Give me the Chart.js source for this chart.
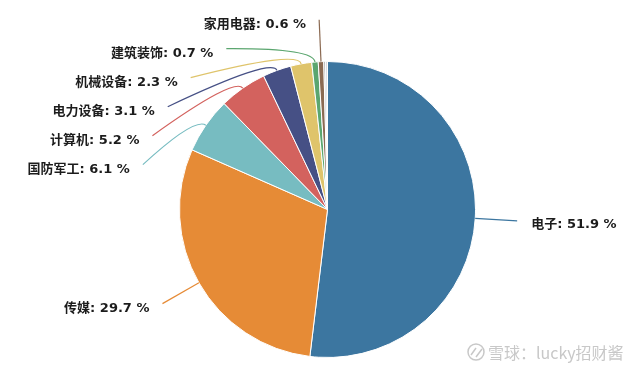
<!DOCTYPE html>
<html>
<head>
<meta charset="utf-8">
<title>行业占比</title>
<style>
  html, body { margin: 0; padding: 0; background: #fff; }
  #wrap { width: 640px; height: 371px; }
</style>
</head>
<body>
<div id="wrap"><canvas id="pie" width="640" height="371"></canvas></div>
<script src="https://cdn.jsdelivr.net/npm/chart.js"></script>
<script>
// 行业及占比 (%)
const categories = ['电子', '传媒', '国防军工', '计算机', '电力设备', '机械设备', '建筑装饰', '家用电器', '其他1', '其他2'];
const shares = [51.9, 29.7, 6.1, 5.2, 3.1, 2.3, 0.7, 0.6, 0.2, 0.2];
const colors = ['#3c76a0', '#e68b36', '#77bcc1', '#d3625e', '#465085', '#dfc46b', '#5ba66f', '#8b6a52', '#a3a3a3', '#d2d4dc'];
const labelled = [true, true, true, true, true, true, true, true, false, false];

const FONT = 'bold 13px "DejaVu Sans", "Noto Sans CJK SC", sans-serif';

// 引导线 + 标签
const leaderLabels = {
    id: 'leaderLabels',
    afterDatasetsDraw(chart) {
        const ctx = chart.ctx;
        const arcs = chart.getDatasetMeta(0).data;
        const cx = arcs[0].x, cy = arcs[0].y, r = arcs[0].outerRadius;
        const R2 = r + 42;
        const gap = 29;

        let items = [];
        arcs.forEach((a, i) => {
            if (!labelled[i]) return;
            const mid = (a.startAngle + a.endAngle) / 2;
            items.push({ i, mid, y: cy + Math.sin(mid) * R2, left: Math.cos(mid) < 0 });
        });

        // 标签从上往下避让
        [items.filter(d => d.left), items.filter(d => !d.left)].forEach(side => {
            side.sort((a, b) => a.y - b.y);
            for (let k = 1; k < side.length; k++) {
                if (side[k].y - side[k - 1].y < gap) side[k].y = side[k - 1].y + gap;
            }
        });

        ctx.save();
        ctx.font = FONT;
        ctx.textBaseline = 'middle';
        items.forEach(d => {
            const dy = Math.max(-R2, Math.min(R2, d.y - cy));
            const dx = Math.sqrt(R2 * R2 - dy * dy);
            const ex = d.left ? cx - dx : cx + dx;
            const ey = d.y;
            const p0x = cx + Math.cos(d.mid) * r, p0y = cy + Math.sin(d.mid) * r;
            const p1x = cx + Math.cos(d.mid) * (r + 14), p1y = cy + Math.sin(d.mid) * (r + 14);

            ctx.strokeStyle = colors[d.i];
            ctx.lineWidth = 1.2;
            ctx.beginPath();
            ctx.moveTo(p0x, p0y);
            ctx.quadraticCurveTo(p1x, p1y, ex, ey);
            ctx.stroke();

            ctx.fillStyle = '#1c1c1c';
            const txt = categories[d.i] + ': ' + shares[d.i].toFixed(1) + ' %';
            if (d.left) {
                ctx.textAlign = 'right';
                ctx.fillText(txt, ex - 13, ey + 5);
            } else {
                ctx.textAlign = 'left';
                ctx.fillText(txt, ex + 14, ey + 4);
            }
        });
        ctx.restore();
    }
};

// 水印
const watermark = {
    id: 'watermark',
    afterDraw(chart) {
        const ctx = chart.ctx;
        ctx.save();
        ctx.strokeStyle = '#c8c8c8';
        ctx.lineWidth = 1.5;
        ctx.beginPath();
        ctx.arc(476, 352, 8, 0, Math.PI * 2);
        ctx.stroke();
        ctx.beginPath();
        ctx.moveTo(471, 355); ctx.lineTo(476, 348);
        ctx.moveTo(476, 357); ctx.lineTo(482, 349);
        ctx.stroke();
        ctx.fillStyle = '#c8c8c8';
        ctx.font = '16px "Noto Sans CJK SC", sans-serif';
        ctx.textBaseline = 'middle';
        ctx.textAlign = 'left';
        ctx.fillText('雪球：lucky招财酱', 488, 353);
        ctx.restore();
    }
};

new Chart(document.getElementById('pie'), {
    type: 'pie',
    data: {
        labels: categories,
        datasets: [{
            data: shares,
            backgroundColor: colors,
            borderColor: '#fff',
            borderWidth: 1
        }]
    },
    options: {
        responsive: false,
        animation: false,
        layout: { padding: { top: 61, bottom: 13, left: 15, right: 0 } },
        plugins: {
            legend: { display: false },
            tooltip: { enabled: false }
        }
    },
    plugins: [leaderLabels, watermark]
});
</script>
</body>
</html>
